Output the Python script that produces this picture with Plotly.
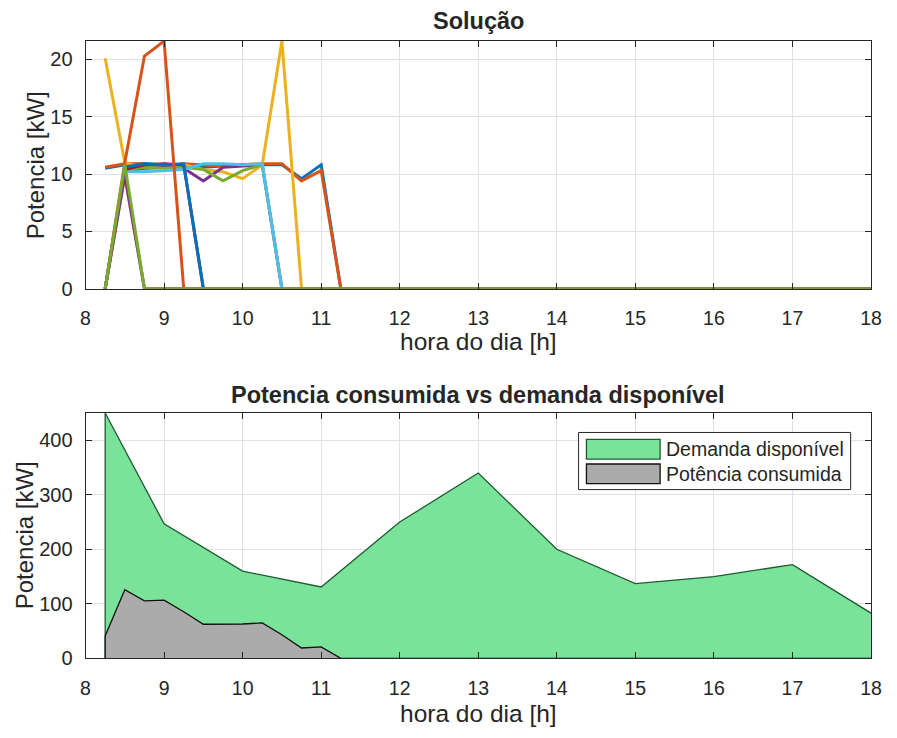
import numpy as np
import plotly.graph_objects as go

# Time of day in quarter-hour steps, from 8:15 to 18:00
hours = np.round(np.arange(8.25, 18.0001, 0.25), 2)

# Charging power per vehicle [kW], listed from 8:15 until the vehicle stops;
# every later interval is zero.
veh_01 = [10.5, 10.8, 10.9, 10.8, 10.7, 10.6, 10.7, 10.8, 10.8, 10.8, 9.6, 10.8, 0]
veh_02 = [10.6, 10.9, 10.9, 10.7, 10.9, 10.8, 10.7, 10.8, 10.9, 10.9, 9.4, 10.3, 0]
veh_03 = [20.1, 11.0, 10.5, 10.6, 10.8, 10.4, 10.2, 9.6, 10.8, 21.6, 0]
veh_04 = [0, 10.2, 10.5, 10.6, 10.5, 9.4, 10.6, 10.7, 10.8, 0]
veh_05 = [0, 10.3, 10.6, 10.5, 10.6, 10.4, 9.4, 10.3, 10.8, 0]
veh_06 = [0, 10.2, 10.2, 10.3, 10.4, 10.9, 10.9, 10.8, 10.9, 0]
veh_07 = [0, 10.4, 10.8, 10.9, 10.8, 0]
veh_08 = [0, 10.6, 10.9, 10.8, 10.9, 0]
veh_09 = [0, 11.0, 20.3, 21.6, 0]
veh_10 = [0, 9.8, 0]
veh_11 = [0, 9.9, 0]
veh_12 = [0, 10.8, 0]

vehicles = [veh_01, veh_02, veh_03, veh_04, veh_05, veh_06,
            veh_07, veh_08, veh_09, veh_10, veh_11, veh_12]

# Available grid demand [kW]
demand_hours = [8.25, 9, 10, 11, 12, 13, 14, 15, 16, 17, 18]
demand = [450, 247, 160, 131, 250, 340, 200, 137, 150, 172, 83]

x_ticks = list(range(8, 19))
y_ticks_top = [0, 5, 10, 15, 20]
y_ticks_bottom = [0, 100, 200, 300, 400]

legend_labels = ["Demanda disponível", "Potência consumida"]

# MATLAB default line colour order
colors = ["#0072BD", "#D95319", "#EDB120", "#7E2F8E",
          "#77AC30", "#4DBEEE", "#A2142F"]
demand_fill, demand_edge = "#7AE39A", "#1F5A32"
consumed_fill, consumed_edge = "#ABABAB", "#111111"

FONT = "Liberation Sans"
INK = "#262626"


def full_profile(values):
    out = np.zeros(len(hours))
    out[:len(values)] = values
    return out


profiles = [full_profile(v) for v in vehicles]
consumed = np.sum(profiles, axis=0)

fig = go.Figure()

for i, p in enumerate(profiles):
    fig.add_trace(go.Scatter(
        x=hours, y=p, mode="lines",
        line=dict(color=colors[i % len(colors)], width=3),
        showlegend=False, xaxis="x", yaxis="y"))

# Areas are closed down to zero at the first sample, like an area plot
fig.add_trace(go.Scatter(
    x=[demand_hours[0]] + demand_hours, y=[0] + demand,
    mode="lines", fill="tozeroy", fillcolor=demand_fill,
    line=dict(color=demand_edge, width=1.3),
    name=legend_labels[0], showlegend=False, xaxis="x2", yaxis="y2"))
fig.add_trace(go.Scatter(
    x=np.concatenate([[hours[0]], hours]), y=np.concatenate([[0], consumed]),
    mode="lines", fill="tozeroy", fillcolor=consumed_fill,
    line=dict(color=consumed_edge, width=1.3),
    name=legend_labels[1], showlegend=False, xaxis="x2", yaxis="y2"))

W, H = 897, 738
x_left, x_right = 82, 881.7
top_y0, top_y1 = 41.7, 293
bot_y0, bot_y1 = 419.3, 668.3


def px_x(v):
    return v / W


def px_y(v):
    return 1 - v / H


def axis_style(standoff, size):
    return dict(
        showline=True, linecolor=INK, linewidth=1, mirror="ticks",
        ticks="inside", ticklen=6, tickcolor=INK, tickwidth=1,
        showgrid=True, gridcolor="#E1E1E1", gridwidth=1, zeroline=False,
        tickfont=dict(family=FONT, size=size, color=INK),
        ticklabelstandoff=standoff,
    )


fig.update_layout(
    width=W, height=H,
    margin=dict(l=0, r=0, t=0, b=0),
    paper_bgcolor="white", plot_bgcolor="white",
    showlegend=False,
    xaxis=dict(domain=[px_x(x_left), px_x(x_right)], anchor="y",
               range=[8, 18], tickvals=x_ticks, **axis_style(12, 19.5)),
    yaxis=dict(domain=[px_y(top_y1), px_y(top_y0)], anchor="x",
               range=[0, 21.6], tickvals=y_ticks_top, **axis_style(8, 20)),
    xaxis2=dict(domain=[px_x(x_left), px_x(x_right)], anchor="y2",
                range=[8, 18], tickvals=x_ticks, **axis_style(12, 19.5)),
    yaxis2=dict(domain=[px_y(bot_y1), px_y(bot_y0)], anchor="x2",
                range=[0, 450], tickvals=y_ticks_bottom, **axis_style(8, 20)),
)


def text(label, x, y, size, angle=0, xanchor="center"):
    fig.add_annotation(text=label, x=x, y=y, xref="paper", yref="paper",
                       xanchor=xanchor, yanchor="middle", showarrow=False,
                       textangle=angle,
                       font=dict(family=FONT, size=size, color=INK))


cx = px_x((x_left + x_right) / 2)
text("<b>Solução</b>", cx, px_y(21), 23.5)
text("<b>Potencia consumida vs demanda disponível</b>", cx, px_y(401), 23.5)
text("hora do dia [h]", cx, px_y(347), 24.5)
text("hora do dia [h]", cx, px_y(724), 24.5)
# y labels sit just left of the widest tick label of each panel
text("Potencia [kW]", px_x(31), px_y((top_y0 + top_y1) / 2), 24, angle=-90)
text("Potencia [kW]", px_x(20), px_y((bot_y0 + bot_y1) / 2), 24, angle=-90)

# Legend box with patch swatches for the two areas
shapes = [dict(type="rect", xref="paper", yref="paper",
               x0=px_x(584), x1=px_x(861), y0=px_y(497), y1=px_y(439),
               fillcolor="white", line=dict(color=INK, width=1), layer="above")]
swatches = [(demand_fill, demand_edge, 446, 466), (consumed_fill, consumed_edge, 471, 491)]
for (fill, edge, t, b), label in zip(swatches, legend_labels):
    shapes.append(dict(type="rect", xref="paper", yref="paper",
                       x0=px_x(592), x1=px_x(667), y0=px_y(b), y1=px_y(t),
                       fillcolor=fill, line=dict(color=edge, width=1.3), layer="above"))
    text(label, px_x(671), px_y((t + b) / 2), 19.5, xanchor="left")
fig.update_layout(shapes=shapes)

fig.write_html("out.html")
